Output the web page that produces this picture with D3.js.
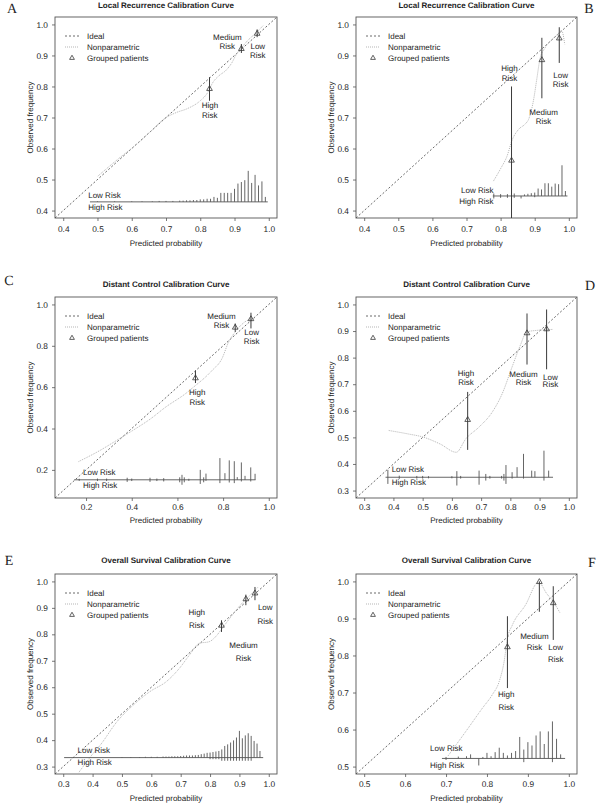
<!DOCTYPE html>
<html><head><meta charset="utf-8">
<script src="https://cdn.jsdelivr.net/npm/d3@7/dist/d3.min.js"></script>
<style>
body{margin:0;background:#fff;-webkit-font-smoothing:antialiased}
svg{display:block}
text{font-family:"Liberation Sans",Arial,Helvetica,sans-serif;fill:#222;text-rendering:geometricPrecision}
</style>
</head><body>
<svg id="chart" width="600" height="804"></svg>
<script>
// ---------------- DATA ----------------
const titles = ["Local Recurrence Calibration Curve","Local Recurrence Calibration Curve",
  "Distant Control Calibration Curve","Distant Control Calibration Curve",
  "Overall Survival Calibration Curve","Overall Survival Calibration Curve"];
const letters = ["A","B","C","D","E","F"];
const legendLabels = ["Ideal","Nonparametric","Grouped patients"];
const groupNames = ["High","Medium","Low"];
const xLabel = "Predicted probability";
const yLabel = "Observed frequency";

// axis limits (before R's 4% extension) and ticks
const limsA = [0.4,1.0], limsB = [0.4,1.0], limsC = [0.1,1.0], limsD = [0.3,1.0], limsE = [0.3,1.0], limsF = [0.5,1.0];
const ticksA = [0.4,0.5,0.6,0.7,0.8,0.9,1.0];
const ticksB = [0.4,0.5,0.6,0.7,0.8,0.9,1.0];
const ticksC = [0.2,0.4,0.6,0.8,1.0];
const ticksD = [0.3,0.4,0.5,0.6,0.7,0.8,0.9,1.0];
const ticksE = [0.3,0.4,0.5,0.6,0.7,0.8,0.9,1.0];
const ticksF = [0.5,0.6,0.7,0.8,0.9,1.0];

// nonparametric curves [predicted, observed]
const curveA = [[0.501,0.511],[0.559,0.565],[0.62,0.619],[0.66,0.660],[0.694,0.695],[0.73,0.716],[0.761,0.728],[0.80,0.754],[0.819,0.776],[0.838,0.815],[0.855,0.835],[0.875,0.852],[0.892,0.876],[0.906,0.905],[0.922,0.927],[0.94,0.950],[0.96,0.970],[0.985,0.998]];
const curveB = [[0.779,0.495],[0.80,0.535],[0.819,0.576],[0.834,0.628],[0.853,0.662],[0.872,0.679],[0.882,0.694],[0.897,0.759],[0.906,0.823],[0.916,0.892],[0.930,0.924],[0.950,0.951],[0.965,0.966],[0.979,0.980],[0.988,0.936]];
const curveC = [[0.167,0.240],[0.261,0.294],[0.330,0.340],[0.405,0.391],[0.480,0.445],[0.549,0.504],[0.636,0.569],[0.679,0.608],[0.723,0.649],[0.752,0.681],[0.795,0.738],[0.824,0.818],[0.853,0.867],[0.896,0.916],[0.939,0.932]];
const curveD = [[0.384,0.526],[0.45,0.513],[0.502,0.501],[0.56,0.475],[0.615,0.444],[0.648,0.495],[0.693,0.539],[0.738,0.595],[0.772,0.664],[0.806,0.765],[0.834,0.846],[0.856,0.897],[0.896,0.903],[0.946,0.906]];
const curveE = [[0.35,0.273],[0.395,0.340],[0.428,0.384],[0.484,0.471],[0.540,0.534],[0.596,0.584],[0.652,0.622],[0.696,0.672],[0.730,0.722],[0.763,0.766],[0.797,0.772],[0.819,0.791],[0.841,0.822],[0.875,0.872],[0.908,0.916],[0.942,0.954],[0.964,0.979]];
const curveF = [[0.705,0.529],[0.749,0.596],[0.789,0.658],[0.813,0.694],[0.830,0.730],[0.842,0.784],[0.850,0.846],[0.862,0.882],[0.894,0.936],[0.926,0.998],[0.946,0.967],[0.962,0.945],[0.978,0.916]];

// grouped patients: High, Medium, Low
const groupXA = [0.827,0.920,0.966], groupYA = [0.794,0.923,0.972], groupLoA = [0.754,0.908,0.959], groupHiA = [0.830,0.937,0.984];
const groupXB = [0.832,0.921,0.972], groupYB = [0.563,0.887,0.957], groupLoB = [0.376,0.762,0.876], groupHiB = [0.800,0.957,0.991];
const groupXC = [0.679,0.853,0.922], groupYC = [0.646,0.891,0.932], groupLoC = [0.620,0.867,0.884], groupHiC = [0.681,0.908,0.960];
const groupXD = [0.654,0.857,0.924], groupYD = [0.568,0.894,0.909], groupLoD = [0.453,0.774,0.756], groupHiD = [0.671,0.966,0.981];
const groupXE = [0.839,0.922,0.953], groupYE = [0.835,0.935,0.957], groupLoE = [0.809,0.910,0.929], groupHiE = [0.853,0.950,0.979];
const groupXF = [0.850,0.928,0.962], groupYF = [0.824,1.000,0.943], groupLoF = [0.712,0.918,0.842], groupHiF = [0.906,1.000,0.987];

// group label anchors (data coords): x, first line y, second line y
const labelA = [[0.828,0.740,0.708],[0.879,0.959,0.930],[0.968,0.929,0.900]];
const labelB = [[0.826,0.859,0.827],[0.926,0.716,0.686],[0.976,0.837,0.807]];
const labelC = [[0.687,0.573,0.526],[0.793,0.940,0.900],[0.925,0.862,0.822]];
const labelD = [[0.648,0.740,0.708],[0.845,0.737,0.708],[0.937,0.727,0.698]];
const labelE = [[0.755,0.883,0.833],[0.914,0.759,0.709],[0.988,0.900,0.849]];
const labelF = [[0.847,0.694,0.660],[0.916,0.851,0.821],[0.968,0.821,0.790]];

// risk distribution spikes: x, height up, height down (in observed-frequency units)
const spikeBaseA = 0.428, spikeRangeA = [0.478,0.997], riskTextA = [0.473,0.447,0.409,"start"];
const spikeXA = [0.50,0.55,0.60,0.63,0.66,0.68,0.70,0.72,0.74,0.75,0.76,0.77,0.78,0.79,0.80,0.81,0.82,0.83,0.84,0.85,0.86,0.87,0.88,0.89,0.90,0.91,0.92,0.93,0.94,0.95,0.96,0.97,0.98,0.99];
const spikeUpA = [0.002,0.002,0.002,0.002,0.002,0.003,0.003,0.003,0.004,0.004,0.005,0.005,0.006,0.006,0.008,0.008,0.010,0.010,0.016,0.013,0.029,0.029,0.029,0.029,0.042,0.059,0.064,0.070,0.100,0.061,0.087,0.053,0.066,0.016];
const spikeDownA = [];

const spikeBaseB = 0.447, spikeRangeB = [0.777,0.996], riskTextB = [0.779,0.464,0.428,"end"];
const spikeXB = [0.78,0.80,0.82,0.84,0.86,0.87,0.88,0.89,0.90,0.91,0.92,0.93,0.94,0.95,0.96,0.97,0.98,0.99];
const spikeUpB = [0.008,0.006,0.006,0.008,0.000,0.005,0.007,0.009,0.011,0.024,0.021,0.041,0.041,0.030,0.040,0.038,0.099,0.016];
const spikeDownB = [0.008,0.006,0.006,0.006,0.008,0,0,0,0.004,0,0,0,0,0,0,0,0,0];

const spikeBaseC = 0.152, spikeRangeC = [0.148,0.942], riskTextC = [0.187,0.189,0.124,"start"];
const spikeXC = [0.17,0.25,0.29,0.38,0.40,0.48,0.51,0.54,0.61,0.62,0.63,0.65,0.70,0.715,0.725,0.786,0.808,0.827,0.849,0.862,0.880,0.896,0.921,0.940];
const spikeUpC = [0.005,0.006,0.006,0.010,0.006,0.010,0.006,0.008,0.012,0.024,0.012,0.005,0.048,0.012,0.030,0.105,0.032,0.094,0.090,0.013,0.084,0.019,0.060,0.029];
const spikeDownC = [0.005,0.006,0.006,0.010,0.006,0.010,0.006,0.008,0.012,0.024,0.012,0.005,0.020,0.012,0.005,0.016,0,0.013,0.016,0,0.008,0,0.008,0];

const spikeBaseD = 0.350, spikeRangeD = [0.373,0.946], riskTextD = [0.394,0.378,0.330,"start"];
const spikeXD = [0.381,0.42,0.48,0.50,0.52,0.60,0.617,0.63,0.693,0.716,0.73,0.77,0.778,0.785,0.806,0.823,0.845,0.873,0.884,0.915,0.931];
const spikeUpD = [0.028,0.006,0.005,0.005,0.004,0.004,0.023,0.005,0.025,0.0125,0.005,0.005,0.0125,0.046,0.019,0.038,0.088,0.025,0.023,0.100,0.025];
const spikeDownD = [0.025,0.006,0.005,0.005,0.004,0.004,0.031,0.005,0.028,0.0125,0.005,0.005,0.0125,0.025,0.005,0,0.005,0,0,0.0125,0];

const spikeBaseE = 0.334, spikeRangeE = [0.303,0.981], riskTextE = [0.349,0.361,0.314,"start"];
const spikeXE = [0.50,0.53,0.56,0.58,0.60,0.62,0.64,0.65,0.66,0.67,0.68,0.69,0.70,0.71,0.72,0.73,0.74,0.75,0.76,0.77,0.78,0.79,0.80,0.81,0.82,0.83,0.84,0.85,0.86,0.87,0.88,0.89,0.90,0.91,0.92,0.93,0.94,0.95,0.96,0.97];
const spikeUpE = [0.002,0.002,0.002,0.003,0.003,0.003,0.004,0.004,0.004,0.005,0.005,0.005,0.006,0.007,0.008,0.008,0.008,0.009,0.010,0.013,0.015,0.018,0.019,0.021,0.023,0.025,0.031,0.044,0.050,0.057,0.065,0.076,0.101,0.073,0.084,0.092,0.082,0.063,0.053,0.025];
const spikeDownE = [0,0,0,0,0,0,0,0,0,0,0,0,0,0,0,0,0,0,0,0,0,0,0.006,0.006,0.006,0.006,0.012,0.012,0.012,0.012,0.012,0.012,0.012,0.012,0.012,0.012,0.012,0,0,0];

const spikeBaseF = 0.522, spikeRangeF = [0.690,0.991], riskTextF = [0.661,0.549,0.502,"start"];
const spikeXF = [0.70,0.73,0.75,0.76,0.78,0.79,0.80,0.81,0.82,0.83,0.84,0.85,0.86,0.87,0.88,0.89,0.90,0.91,0.92,0.93,0.94,0.95,0.96,0.97,0.98];
const spikeUpF = [0.004,0.005,0.006,0.011,0,0.004,0.015,0.006,0.017,0.029,0.015,0.008,0.015,0.020,0.058,0.024,0.044,0.035,0.062,0.073,0.039,0.073,0.100,0.053,0.011];
const spikeDownF = [0.004,0,0,0,0.019,0,0,0,0,0,0,0,0,0,0,0.010,0,0,0,0,0,0,0.010,0,0];

// ---------------- LAYOUT ----------------
const colX = [[55,277],[356,577]];
const rowY = [[17,218],[297,498],[574,774]];
const rowTitleY = [5,284,560];
const rowTickY = [229,507,784];
const rowXLabelY = [243,520,798];
const letterPos = [[12,9],[589,9],[9,281],[590,286],[9,561],[592,563]];

const svg = d3.select("#chart");
const ext = l => { const d = (l[1]-l[0])*0.04; return [l[0]-d, l[1]+d]; };

const panels = [
  {lims:limsA,ticks:ticksA,curve:curveA,gx:groupXA,gy:groupYA,glo:groupLoA,ghi:groupHiA,lab:labelA,base:spikeBaseA,range:spikeRangeA,rt:riskTextA,sx:spikeXA,su:spikeUpA,sd:spikeDownA},
  {lims:limsB,ticks:ticksB,curve:curveB,gx:groupXB,gy:groupYB,glo:groupLoB,ghi:groupHiB,lab:labelB,base:spikeBaseB,range:spikeRangeB,rt:riskTextB,sx:spikeXB,su:spikeUpB,sd:spikeDownB},
  {lims:limsC,ticks:ticksC,curve:curveC,gx:groupXC,gy:groupYC,glo:groupLoC,ghi:groupHiC,lab:labelC,base:spikeBaseC,range:spikeRangeC,rt:riskTextC,sx:spikeXC,su:spikeUpC,sd:spikeDownC},
  {lims:limsD,ticks:ticksD,curve:curveD,gx:groupXD,gy:groupYD,glo:groupLoD,ghi:groupHiD,lab:labelD,base:spikeBaseD,range:spikeRangeD,rt:riskTextD,sx:spikeXD,su:spikeUpD,sd:spikeDownD},
  {lims:limsE,ticks:ticksE,curve:curveE,gx:groupXE,gy:groupYE,glo:groupLoE,ghi:groupHiE,lab:labelE,base:spikeBaseE,range:spikeRangeE,rt:riskTextE,sx:spikeXE,su:spikeUpE,sd:spikeDownE},
  {lims:limsF,ticks:ticksF,curve:curveF,gx:groupXF,gy:groupYF,glo:groupLoF,ghi:groupHiF,lab:labelF,base:spikeBaseF,range:spikeRangeF,rt:riskTextF,sx:spikeXF,su:spikeUpF,sd:spikeDownF}
];

const fs = 8;
const dark = "#3a3a3a";

panels.forEach((p, i) => {
  const col = i % 2, row = Math.floor(i / 2);
  const [x0, x1] = colX[col], [y0, y1] = rowY[row];
  const dom = ext(p.lims);
  const x = d3.scaleLinear().domain(dom).range([x0, x1]);
  const y = d3.scaleLinear().domain(dom).range([y1, y0]);
  const g = svg.append("g");

  const clipId = "clip" + i;
  svg.append("clipPath").attr("id", clipId).append("rect")
    .attr("x", x0).attr("y", y0).attr("width", x1 - x0).attr("height", y1 - y0);

  // axes
  const fmt = d3.format(".1f");
  const ax = g.append("g").attr("transform", `translate(0,${y1})`)
    .call(d3.axisBottom(x).tickValues(p.ticks).tickSize(3).tickPadding(4).tickFormat(fmt));
  const ay = g.append("g").attr("transform", `translate(${x0},0)`)
    .call(d3.axisLeft(y).tickValues(p.ticks).tickSize(3).tickPadding(4).tickFormat(fmt));
  [ax, ay].forEach(a => {
    a.select(".domain").remove();
    a.selectAll(".tick line").attr("stroke", "#555").attr("stroke-width", 0.8);
    a.selectAll(".tick text").attr("font-size", fs + 0.3).attr("fill", "#222")
      .attr("font-family", '"Liberation Sans",Arial,sans-serif');
  });
  ax.selectAll(".tick text").attr("dy", null).attr("y", rowTickY[row] - y1).attr("dominant-baseline", "central");

  // box
  g.append("rect").attr("x", x0).attr("y", y0).attr("width", x1 - x0).attr("height", y1 - y0)
    .attr("fill", "none").attr("stroke", "#555").attr("stroke-width", 0.9);

  // titles
  g.append("text").attr("x", (x0 + x1) / 2).attr("y", rowTitleY[row]).attr("text-anchor", "middle")
    .attr("dominant-baseline", "central").attr("font-size", fs).attr("font-weight", "bold").text(titles[i]);
  g.append("text").attr("x", (x0 + x1) / 2).attr("y", rowXLabelY[row]).attr("text-anchor", "middle")
    .attr("dominant-baseline", "central").attr("font-size", fs).text(xLabel);
  const ylx = x0 - 25, yly = (y0 + y1) / 2;
  g.append("text").attr("transform", `translate(${ylx},${yly}) rotate(-90)`).attr("text-anchor", "middle")
    .attr("dominant-baseline", "central").attr("font-size", fs).text(yLabel);
  g.append("text").attr("x", letterPos[i][0]).attr("y", letterPos[i][1]).attr("text-anchor", "middle")
    .attr("dominant-baseline", "central").attr("font-size", 14)
    .style("font-family", '"Liberation Serif","Times New Roman",serif').text(letters[i]);

  const inner = g.append("g").attr("clip-path", `url(#${clipId})`);

  // ideal line
  inner.append("line").attr("x1", x(dom[0])).attr("y1", y(dom[0])).attr("x2", x(dom[1])).attr("y2", y(dom[1]))
    .attr("stroke", "#444").attr("stroke-width", 0.8).attr("stroke-dasharray", "2,2");

  // nonparametric
  inner.append("path").datum(p.curve)
    .attr("d", d3.line().x(d => x(d[0])).y(d => y(d[1])).curve(d3.curveMonotoneX))
    .attr("fill", "none").attr("stroke", "#b5b5b5").attr("stroke-width", 1).attr("stroke-dasharray", "1,1");

  // spikes
  inner.append("line").attr("x1", x(p.range[0])).attr("x2", x(p.range[1]))
    .attr("y1", y(p.base)).attr("y2", y(p.base)).attr("stroke", "#555").attr("stroke-width", 0.9);
  inner.selectAll(".spike").data(p.sx).join("line").attr("class", "spike")
    .attr("x1", d => x(d)).attr("x2", d => x(d))
    .attr("y1", (d, k) => y(p.base + (p.su[k] || 0)))
    .attr("y2", (d, k) => y(p.base - (p.sd[k] || 0)))
    .attr("stroke", "#555").attr("stroke-width", 0.9);
  g.append("text").attr("x", x(p.rt[0])).attr("y", y(p.rt[1])).attr("text-anchor", p.rt[3])
    .attr("dominant-baseline", "central").attr("font-size", fs).text("Low Risk");
  g.append("text").attr("x", x(p.rt[0])).attr("y", y(p.rt[2])).attr("text-anchor", p.rt[3])
    .attr("dominant-baseline", "central").attr("font-size", fs).text("High Risk");

  // error bars & triangles
  p.gx.forEach((gxv, k) => {
    g.append("line").attr("x1", x(gxv)).attr("x2", x(gxv))
      .attr("y1", y(Math.max(p.glo[k], dom[0]))).attr("y2", y(p.ghi[k]))
      .attr("stroke", dark).attr("stroke-width", 1);
    g.append("path").attr("d", d3.symbol(d3.symbolTriangle, 14)())
      .attr("transform", `translate(${x(gxv)},${y(p.gy[k]) + 0.5})`)
      .attr("fill", "none").attr("stroke", dark).attr("stroke-width", 0.8);
    const L = p.lab[k];
    g.append("text").attr("x", x(L[0])).attr("y", y(L[1])).attr("text-anchor", "middle")
      .attr("dominant-baseline", "central").attr("font-size", fs).text(groupNames[k]);
    g.append("text").attr("x", x(L[0])).attr("y", y(L[2])).attr("text-anchor", "middle")
      .attr("dominant-baseline", "central").attr("font-size", fs).text("Risk");
  });

  // legend
  const lx = x0 + 10, ly = y0 + 19, step = 11;
  g.append("line").attr("x1", lx).attr("x2", lx + 14).attr("y1", ly).attr("y2", ly)
    .attr("stroke", "#444").attr("stroke-width", 0.8).attr("stroke-dasharray", "2,2");
  g.append("line").attr("x1", lx).attr("x2", lx + 14).attr("y1", ly + step).attr("y2", ly + step)
    .attr("stroke", "#b5b5b5").attr("stroke-width", 1).attr("stroke-dasharray", "1,1");
  g.append("path").attr("d", d3.symbol(d3.symbolTriangle, 10)())
    .attr("transform", `translate(${lx + 7},${ly + 2 * step})`)
    .attr("fill", "none").attr("stroke", dark).attr("stroke-width", 0.8);
  legendLabels.forEach((t, k) => {
    g.append("text").attr("x", lx + 22).attr("y", ly + k * step).attr("dominant-baseline", "central")
      .attr("font-size", fs).text(t);
  });
});
</script>
</body></html>
